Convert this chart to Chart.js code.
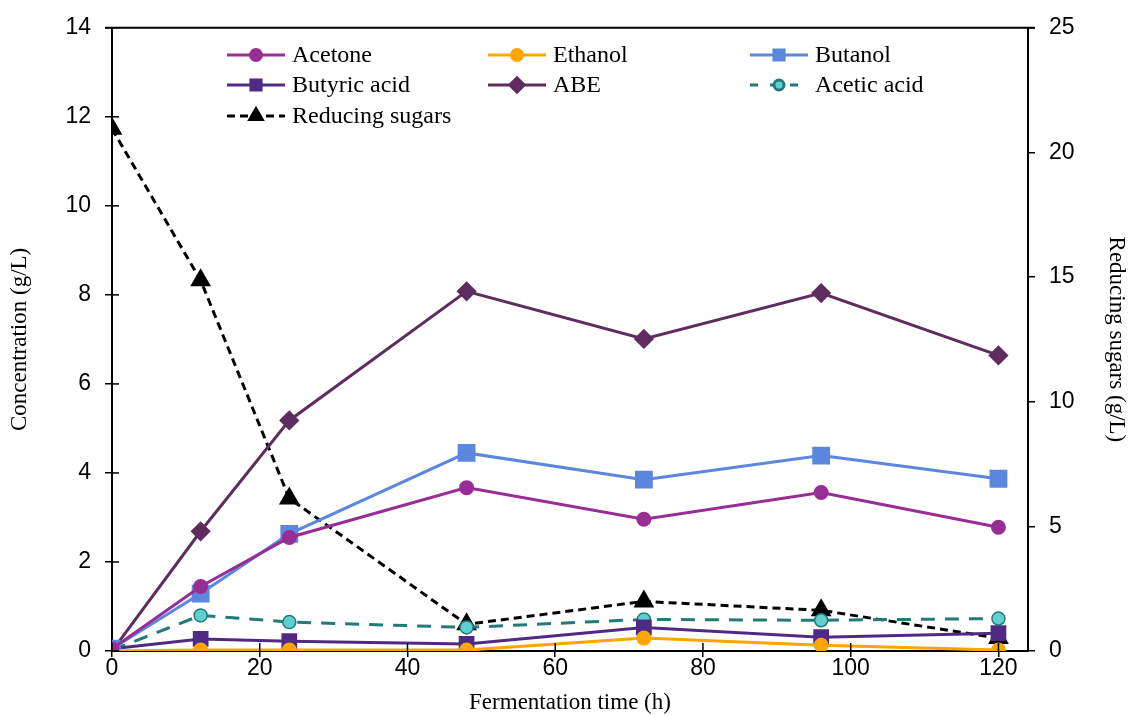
<!DOCTYPE html>
<html>
<head>
<meta charset="utf-8">
<script src="https://cdn.jsdelivr.net/npm/chart.js@4/dist/chart.umd.min.js"></script>
<style>
body{margin:0;background:#fff}
#wrap{width:1128px;height:715px}
</style>
</head>
<body>
<div id="wrap"><canvas id="chart" width="1128" height="715"></canvas></div>
<script>
// fermentation time (h)
const hours=[0,12,24,48,72,96,120]
const acetone=[0.05,1.45,2.55,3.67,2.96,3.56,2.78]
const ethanol=[0.0,0.02,0.02,0.02,0.29,0.13,0.02]
const butanol=[0.05,1.29,2.63,4.45,3.85,4.39,3.87]
const butyric=[0.05,0.27,0.22,0.16,0.53,0.31,0.40]
const abe=[0.0,2.69,5.18,8.08,7.01,8.04,6.64]
const acetic=[0.02,0.80,0.65,0.53,0.71,0.69,0.73]
const sugars=[20.95,14.87,6.12,1.07,1.99,1.63,0.52]
const xTicks=[0,20,40,60,80,100,120]

const pts=arr=>arr.map((v,i)=>({x:hours[i],y:v}))

const serif='"Liberation Serif", "Times New Roman", serif'
const sans='"Liberation Sans", Arial, sans-serif'

const datasets=[
  {label:'Acetone',data:pts(acetone),borderColor:'#992d96',backgroundColor:'#992d96',pointStyle:'circle',pointRadius:6,borderWidth:3},
  {label:'Ethanol',data:pts(ethanol),borderColor:'#ffa500',backgroundColor:'#ffa500',pointStyle:'circle',pointRadius:6,borderWidth:3},
  {label:'Butanol',data:pts(butanol),borderColor:'#5b87de',backgroundColor:'#5b87de',pointStyle:'rect',pointRadius:10.5,borderWidth:3},
  {label:'Butyric acid',data:pts(butyric),borderColor:'#4e2a84',backgroundColor:'#4e2a84',pointStyle:'rect',pointRadius:9,borderWidth:3},
  {label:'ABE',data:pts(abe),borderColor:'#5f2c5f',backgroundColor:'#5f2c5f',pointStyle:'rectRot',pointRadius:8,borderWidth:3},
  {label:'Acetic acid',data:pts(acetic),borderColor:'#237b79',backgroundColor:'#5ed0d0',pointBorderColor:'#237b79',pointBorderWidth:1.5,pointStyle:'circle',pointRadius:6.5,borderWidth:3,borderDash:[14,10]},
  {label:'Reducing sugars',data:pts(sugars),yAxisID:'y2',borderColor:'#000',backgroundColor:'#000',pointStyle:'triangle',pointRadius:9,borderWidth:3,borderDash:[8,5]}
]
datasets.forEach(d=>{d.tension=0;d.fill=false;d.pointHoverRadius=d.pointRadius})

// legend drawn inside the plot, 3 columns
const legendBox={
  id:'legendBox',
  afterDraw(chart){
    const ctx=chart.ctx
    const colX=[227,488,750], rowY=[55,85,116]
    chart.data.datasets.forEach((d,i)=>{
      const x=colX[i%3], y=rowY[Math.floor(i/3)]
      ctx.save()
      ctx.strokeStyle=d.borderColor
      ctx.lineWidth=d.borderWidth
      ctx.setLineDash(d.borderDash?[8,12]:[])
      if(d.borderDash&&d.label=='Reducing sugars')ctx.setLineDash([8,5])
      ctx.beginPath();ctx.moveTo(x,y);ctx.lineTo(x+58,y);ctx.stroke()
      ctx.setLineDash([])
      ctx.fillStyle=d.backgroundColor
      ctx.strokeStyle=d.pointBorderColor||d.borderColor
      const r=d.label=='Acetic acid'?5:Math.min(d.pointRadius,8)*0.9
      Chart.helpers.drawPoint(ctx,{pointStyle:d.pointStyle,radius:r,rotation:0,borderWidth:d.pointBorderWidth||1},x+29,y)
      ctx.fillStyle='#000'
      ctx.font='24px '+serif
      ctx.textBaseline='middle'
      ctx.fillText(d.label,x+65,y+1)
      ctx.restore()
    })
  }
}

// top border and the inner halves of the crossing ticks
const frame={
  id:'frame',
  afterDraw(chart){
    const ctx=chart.ctx, a=chart.chartArea
    const sx=chart.scales.x, sy=chart.scales.y
    ctx.save()
    ctx.strokeStyle='#000'
    ctx.lineWidth=2
    ctx.beginPath();ctx.moveTo(a.left-7,a.top);ctx.lineTo(a.right+7,a.top);ctx.stroke()
    ctx.lineWidth=1.5
    sy.ticks.forEach(t=>{const p=sy.getPixelForValue(t.value);ctx.beginPath();ctx.moveTo(a.left,p);ctx.lineTo(a.left+7,p);ctx.stroke()})
    sx.ticks.forEach(t=>{const p=sx.getPixelForValue(t.value);ctx.beginPath();ctx.moveTo(p,a.bottom);ctx.lineTo(p,a.bottom-8);ctx.stroke()})
    ctx.restore()
  }
}

new Chart(document.getElementById('chart'),{
  type:'line',
  data:{datasets:datasets},
  options:{
    responsive:false,
    animation:false,
    layout:{padding:{top:22,right:0,left:0,bottom:0}},
    plugins:{legend:{display:false},tooltip:{enabled:false}},
    scales:{
      x:{
        type:'linear',min:0,max:124,
        afterBuildTicks:s=>{s.ticks=xTicks.map(v=>({value:v}))},
        afterFit:s=>{s.height=64},
        grid:{drawOnChartArea:false,tickLength:6,color:'#000',lineWidth:1.5},
        border:{color:'#000',width:2},
        ticks:{color:'#000',font:{family:sans,size:23},padding:-2,maxRotation:0},
        title:{display:true,text:'Fermentation time (h)',color:'#000',font:{family:serif,size:23,lineHeight:1},padding:{top:0,bottom:1}}
      },
      y:{
        position:'left',min:0,max:14,
        ticks:{stepSize:2,color:'#000',font:{family:sans,size:23},padding:14},
        afterFit:s=>{s.width=112},
        grid:{drawOnChartArea:false,tickLength:7,color:'#000',lineWidth:1.5},
        border:{color:'#000',width:2},
        title:{display:true,text:'Concentration (g/L)',color:'#000',font:{family:serif,size:23,lineHeight:1},padding:{top:8,bottom:0}}
      },
      y2:{
        position:'right',min:0,max:25,
        ticks:{stepSize:5,color:'#000',font:{family:sans,size:23},padding:14},
        afterFit:s=>{s.width=100},
        grid:{drawOnChartArea:false,tickLength:7,color:'#000',lineWidth:1.5},
        border:{color:'#000',width:2},
        title:{display:true,text:'Reducing sugars (g/L)',color:'#000',font:{family:serif,size:23,lineHeight:1},padding:{top:0,bottom:0}}
      }
    }
  },
  plugins:[legendBox,frame]
})
</script>
</body>
</html>
